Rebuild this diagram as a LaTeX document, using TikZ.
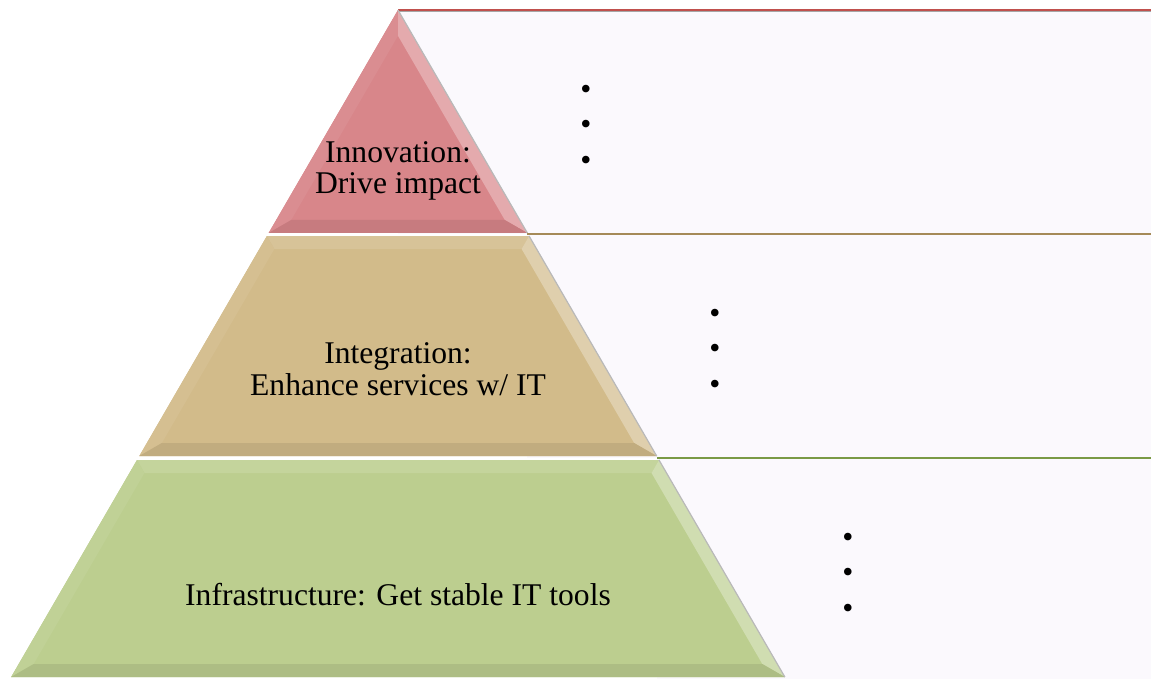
\documentclass[tikz,border=0pt]{standalone}
\usepackage{fontspec}
\setmainfont{Liberation Serif}
\definecolor{boxfill}{HTML}{FBF9FD}
\definecolor{tierA}{HTML}{D8868A}
\definecolor{tierB}{HTML}{D2BB8A}
\definecolor{tierC}{HTML}{BCCE8F}
\definecolor{lineA}{HTML}{C0504D}
\definecolor{lineB}{HTML}{A58A58}
\definecolor{lineC}{HTML}{7A9A45}
\newcommand\mytier[4]{%
  \pgfmathsetmacro\oTL{398-0.58*(#1-10)}%
  \pgfmathsetmacro\oTR{398+0.58*(#1-10)}%
  \pgfmathsetmacro\oBL{398-0.58*(#2-10)}%
  \pgfmathsetmacro\oBR{398+0.58*(#2-10)}%
  \pgfmathsetmacro\iT{#3}%
  \pgfmathsetmacro\iB{#2-13}%
  \pgfmathsetmacro\iTL{398-0.58*(\iT-10)+15}%
  \pgfmathsetmacro\iTR{398+0.58*(\iT-10)-15}%
  \pgfmathsetmacro\iBL{398-0.58*(\iB-10)+15}%
  \pgfmathsetmacro\iBR{398+0.58*(\iB-10)-15}%
  \fill[#4] (\oTL,#1) -- (\oTR,#1) -- (\oBR,#2) -- (\oBL,#2) -- cycle;
  \fill[#4!88!white] (\oTL,#1) -- (\oTR,#1) -- (\iTR,\iT) -- (\iTL,\iT) -- cycle;
  \fill[#4!94!white] (\oTL,#1) -- (\iTL,\iT) -- (\iBL,\iB) -- (\oBL,#2) -- cycle;
  \fill[#4!70!white] (\oTR,#1) -- (\oBR,#2) -- (\iBR,\iB) -- (\iTR,\iT) -- cycle;
  \fill[#4!92!black] (\oBL,#2) -- (\oBR,#2) -- (\iBR,\iB) -- (\iBL,\iB) -- cycle;
  \draw[gray!55, line width=1.2] (\oTR,#1) -- (\oBR,#2);
}
\tikzset{
  tierlabel/.style={font=\fontsize{31.6}{32}\selectfont, align=center, anchor=base, inner sep=0},
  dotmark/.style={font=\fontsize{31.6}{32}\selectfont, inner sep=0, anchor=center},
  boxline/.style={line width=2.6}
}
\begin{document}
\begin{tikzpicture}[x=1pt,y=-1pt]
\useasboundingbox (0,0) rectangle (1151,679);
% right-hand boxes
\fill[boxfill] (398,10) rectangle (1151,234);
\fill[boxfill] (527,235) rectangle (1151,458);
\fill[boxfill] (657,459) rectangle (1151,679);
\coordinate (a1) at (398,10);
\coordinate (a2) at (1151,10);
\coordinate (b1) at (527,234);
\coordinate (b2) at (1151,234);
\coordinate (c1) at (657,458);
\coordinate (c2) at (1151,458);
\draw[gray!70, line width=0.8] ([yshift=-1.6]a1) -- ([yshift=-1.6]a2);
\draw[boxline, lineA] (a1) -- (a2);
\draw[boxline, lineB] (b1) -- (b2);
\draw[boxline, lineC] (c1) -- (c2);
% pyramid tiers
\mytier{10}{233}{36}{tierA}
\mytier{236}{456}{249}{tierB}
\mytier{460}{677}{473}{tierC}
% labels
\node[tierlabel] (innov) at (398,194) {Innovation:\\Drive impact};
\node[tierlabel] (integ) at (398,395) {Integration:\\Enhance services w/ IT};
\node[tierlabel] (infra) at (398,605) {Infrastructure: Get stable IT tools};
% bullets
\foreach \y [count=\i] in {92,127,163} \node[dotmark] (dA\i) at (586,\y) {\textbullet};
\foreach \y [count=\i] in {316,351,387} \node[dotmark] (dB\i) at (715,\y) {\textbullet};
\foreach \y [count=\i] in {540,575,611} \node[dotmark] (dC\i) at (848,\y) {\textbullet};
\end{tikzpicture}
\end{document}
